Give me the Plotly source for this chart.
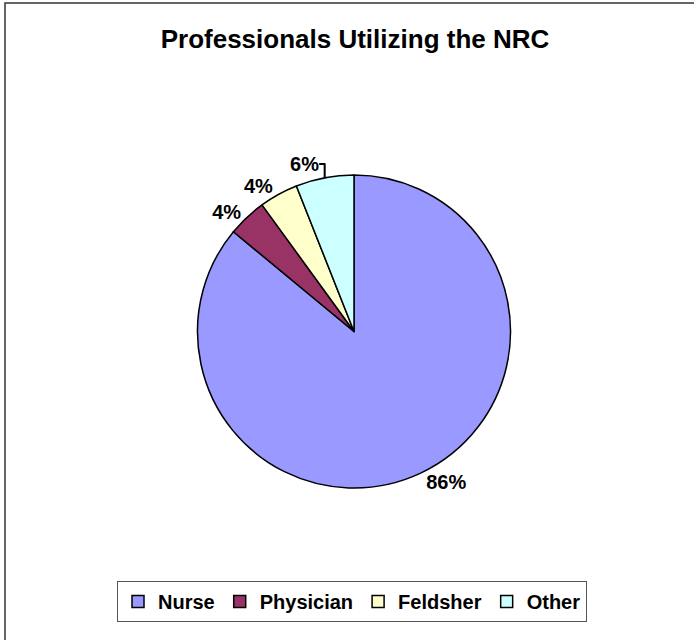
import plotly.graph_objects as go

labels = ["Nurse", "Physician", "Feldsher", "Other"]
values = [86, 4, 4, 6]
colors = ["#9999FF", "#993366", "#FFFFCC", "#CCFFFF"]

FONT = "Liberation Sans, Arial, sans-serif"

fig = go.Figure(go.Pie(
    labels=labels,
    values=values,
    sort=False,
    direction="clockwise",
    rotation=0,
    marker=dict(colors=colors, line=dict(color="black", width=1.5)),
    textinfo="percent",
    texttemplate="<b>%{percent:.0%}</b>",
    textposition="outside",
    textfont=dict(family=FONT, size=20, color="black"),
    domain=dict(x=[0.2839, 0.7363], y=[0.2375, 0.7266]),
    hoverinfo="label+percent",
))

fig.add_shape(
    type="rect", xref="paper", yref="paper",
    x0=5 / 694, x1=1.05, y0=-0.05, y1=1 - 3 / 640,
    line=dict(color="#333333", width=1.5),
)

fig.update_layout(
    width=694,
    height=640,
    paper_bgcolor="white",
    plot_bgcolor="white",
    margin=dict(l=0, r=0, t=0, b=0),
    title=dict(
        text="<b>Professionals Utilizing the NRC</b>",
        x=355 / 694, xanchor="center",
        y=1 - 39 / 640, yanchor="middle",
        font=dict(family=FONT, size=26, color="black"),
    ),
    showlegend=True,
    legend=dict(
        orientation="h",
        x=352 / 694, xanchor="center",
        y=1 - 622 / 640, yanchor="bottom",
        bordercolor="#555555", borderwidth=1,
        font=dict(family=FONT, size=20, color="black", weight="bold"),
        itemwidth=30,
        traceorder="normal",
    ),
)

fig.write_html("out.html", config={"displayModeBar": False},
               post_script="document.body.style.margin='0';")
